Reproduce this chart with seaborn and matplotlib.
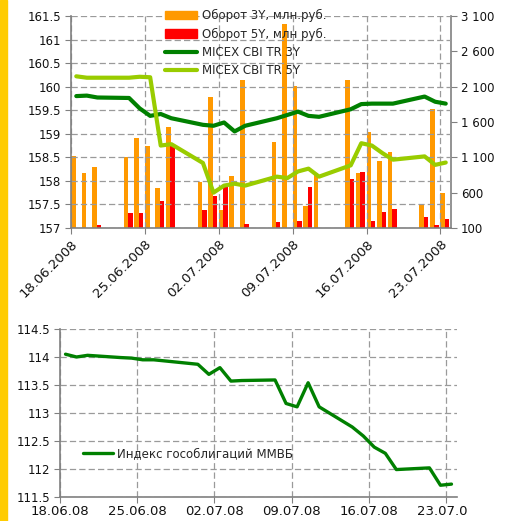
import matplotlib
matplotlib.use("Agg")
import matplotlib.dates as mdates
import matplotlib.pyplot as plt
import pandas as pd
import seaborn as sns
from matplotlib.patches import Patch, Rectangle
from matplotlib.lines import Line2D


TRADING_DAYS = [
    "18.06.2008", "19.06.2008", "20.06.2008", "23.06.2008", "24.06.2008",
    "25.06.2008", "26.06.2008", "27.06.2008", "30.06.2008", "01.07.2008",
    "02.07.2008", "03.07.2008", "04.07.2008", "07.07.2008", "08.07.2008",
    "09.07.2008", "10.07.2008", "11.07.2008", "14.07.2008", "15.07.2008",
    "16.07.2008", "17.07.2008", "18.07.2008", "21.07.2008", "22.07.2008",
    "23.07.2008",
]

# turnover, mln rub (right axis)
turnover_3y = [1125, 881, 970, 1106, 1379, 1266, 669, 1534, 758, 1957,
               349, 829, 2192, 1322, 2982, 2108, 406, 885, 2192, 885,
               1459, 1050, 1181, 429, 1788, 589]
turnover_5y = [0, 0, 147, 307, 307, 0, 476, 1261, 349, 547,
               678, 0, 161, 180, 0, 194, 674, 0, 796, 899,
               194, 321, 373, 250, 147, 232]

# MICEX CBI TR indices (left axis)
micex_3y = [159.80, 159.81, 159.77, 159.76, 159.54, 159.38, 159.42, 159.33,
            159.19, 159.17, 159.24, 159.05, 159.17, 159.33, 159.40, 159.47,
            159.38, 159.36, 159.52, 159.63, 159.64, 159.64, 159.64, 159.79,
            159.68, 159.64]
micex_5y = [160.22, 160.19, 160.19, 160.19, 160.21, 160.20, 158.75, 158.78,
            158.38, 157.75, 157.90, 157.94, 157.90, 158.09, 158.06, 158.20,
            158.26, 158.09, 158.33, 158.80, 158.75, 158.59, 158.45, 158.52,
            158.34, 158.39]

# MICEX government bond index
mmvb = [114.05, 114.00, 114.03, 113.99, 113.98, 113.95, 113.95, 113.93,
        113.87, 113.69, 113.81, 113.57, 113.58, 113.59, 113.17, 113.11,
        113.54, 113.11, 112.75, 112.59, 112.39, 112.28, 111.99, 112.02,
        111.71, 111.73]

TICK_DATES = ["18.06.2008", "25.06.2008", "02.07.2008", "09.07.2008",
              "16.07.2008", "23.07.2008"]
LEFT_TICKS = [157, 157.5, 158, 158.5, 159, 159.5, 160, 160.5, 161, 161.5]
RIGHT_TICKS = [100, 600, 1100, 1600, 2100, 2600, 3100]
MMVB_TICKS = [111.5, 112, 112.5, 113, 113.5, 114, 114.5]

ORANGE = "#FF9900"
RED = "#FF0000"
DARK_GREEN = "#008000"
LIGHT_GREEN = "#99CC00"
GRID = "#9a9a9a"
SPINE = "#808080"

sns.set_theme(style="ticks")
plt.rcParams["font.family"] = ["DejaVu Sans"]
plt.rcParams["font.size"] = 8.5

W, H = 514, 521
x = mdates.date2num(pd.to_datetime(TRADING_DAYS, format="%d.%m.%Y"))
ticks = mdates.date2num(pd.to_datetime(TICK_DATES, format="%d.%m.%Y"))
x_min, x_max = ticks[0], ticks[-1] + 1

fig = plt.figure(figsize=(W / 100, H / 100), dpi=100)
fig.patches.append(Rectangle((0, 0), 7 / W, 1, transform=fig.transFigure,
                             color="#FFCC00", zorder=0))


def style_axes(a):
    a.grid(True, color=GRID, linestyle=(0, (5, 2.5)), linewidth=0.9)
    a.tick_params(direction="out", length=4, width=0.8, color=SPINE,
                  labelsize=8.5, labelcolor="#111111", pad=3)
    for side in ("left", "bottom", "right", "top"):
        a.spines[side].set_color(SPINE)
        a.spines[side].set_linewidth(1.2)
    a.spines["top"].set_visible(False)


# ---------- top chart ----------
ax = fig.add_axes([71 / W, 1 - 228 / H, 380 / W, 212 / H])
ax2 = ax.twinx()

ax2.bar(x, turnover_3y, width=0.44, align="edge", color=ORANGE, linewidth=0)
ax2.bar(x + 0.42, turnover_5y, width=0.42, align="edge", color=RED, linewidth=0)
ax2.set_ylim(100, 3100)
ax2.set_yticks(RIGHT_TICKS)
ax2.set_yticklabels([f"{v:,}".replace(",", " ") for v in RIGHT_TICKS])

sns.lineplot(x=x + 0.5, y=micex_3y, ax=ax, color=DARK_GREEN, linewidth=3,
             solid_joinstyle="round", solid_capstyle="round")
sns.lineplot(x=x + 0.5, y=micex_5y, ax=ax, color=LIGHT_GREEN, linewidth=3,
             solid_joinstyle="round", solid_capstyle="round")
ax.set_ylim(157, 161.5)
ax.set_yticks(LEFT_TICKS)
ax.set_yticklabels([f"{v:g}" for v in LEFT_TICKS])
ax.set_xlim(x_min, x_max)
ax.set_xticks(ticks)
ax.set_xticklabels(TICK_DATES, rotation=45, ha="right", rotation_mode="anchor")
ax.set_zorder(ax2.get_zorder() + 1)
ax.patch.set_visible(False)

style_axes(ax)
style_axes(ax2)
ax.tick_params(axis="x", labelsize=9.5)
ax.spines["right"].set_visible(False)
ax2.grid(False)
for side in ("left", "bottom"):
    ax2.spines[side].set_visible(False)

handles = [
    Patch(color=ORANGE, label="Оборот 3Y, млн.руб."),
    Patch(color=RED, label="Оборот 5Y, млн руб."),
    Line2D([], [], color=DARK_GREEN, linewidth=3, label="MICEX CBI TR 3Y"),
    Line2D([], [], color=LIGHT_GREEN, linewidth=3, label="MICEX CBI TR 5Y"),
]
ax.legend(handles=handles, loc="upper left", bbox_to_anchor=(0.235, 1.055),
          frameon=False, fontsize=8.5, handlelength=2.7, handletextpad=0.4,
          labelspacing=0.45, borderaxespad=0)

# ---------- bottom chart ----------
bx = fig.add_axes([60 / W, 1 - 497 / H, 397 / W, 168 / H])
sns.lineplot(x=x + 0.5, y=mmvb, ax=bx, color=DARK_GREEN, linewidth=2.4,
             solid_joinstyle="round", solid_capstyle="round",
             label="Индекс гособлигаций ММВБ")
bx.set_ylim(111.5, 114.5)
bx.set_yticks(MMVB_TICKS)
bx.set_yticklabels([f"{v:g}" for v in MMVB_TICKS])
bx.set_xlim(x_min, x_max)
bx.set_xticks(ticks)
bx.set_xticklabels([d[:6] + d[8:] for d in TICK_DATES])
style_axes(bx)
bx.tick_params(axis="x", labelsize=9.5, pad=2)
bx.spines["right"].set_visible(False)
bx.legend(loc="center left", bbox_to_anchor=(0.045, 0.256), frameon=False,
          fontsize=8.5, handlelength=2.6, handletextpad=0.3, borderaxespad=0)

# the original cuts the last date label at the chart area edge
fig.add_artist(Rectangle((468 / W, 0), 1 - 468 / W, 20 / H,
                         transform=fig.transFigure, color="white", zorder=10))

fig.savefig("out.png", dpi=100)
